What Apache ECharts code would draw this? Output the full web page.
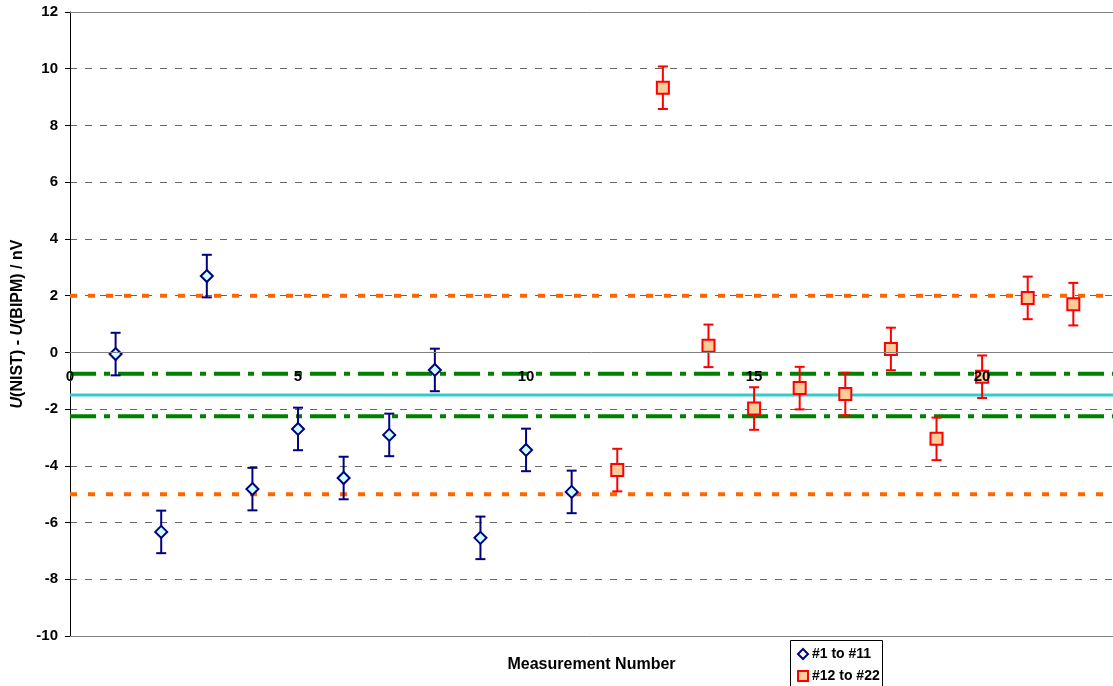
<!DOCTYPE html>
<html>
<head>
<meta charset="utf-8">
<script src="https://cdn.jsdelivr.net/npm/echarts@6/dist/echarts.min.js"></script>
<style>html,body{margin:0;padding:0;background:#fff;}#c{width:1113px;height:686px;}</style>
</head>
<body>
<div id="c"></div>
<script>
// Measurement numbers
const xs1 = [1,2,3,4,5,6,7,8,9,10,11];
const xs2 = [12,13,14,15,16,17,18,19,20,21,22];
// U(NIST) - U(BIPM) / nV
const vals1 = [-0.06,-6.33,2.69,-4.82,-2.70,-4.43,-2.91,-0.62,-6.54,-3.44,-4.92];
const vals2 = [-4.15,9.33,0.23,-1.98,-1.26,-1.47,0.12,-3.05,-0.86,1.92,1.70];
// uncertainties (error bar half-widths)
const err1 = [0.75,0.75,0.75,0.75,0.75,0.75,0.75,0.75,0.75,0.75,0.75];
const err2 = [0.75,0.75,0.75,0.75,0.75,0.75,0.75,0.75,0.75,0.75,0.75];
// reference levels
const orangeLevels = [2,-5];
const greenLevels = [-0.75,-2.25];
const cyanLevel = -1.5;
const X_MAX = 22.87; // visible end of the (clipped) plot area
const xSpan = [0, X_MAX];
const names = ['#1 to #11','#12 to #22'];

const FONT = "'Liberation Sans', Arial, sans-serif";
const GRID_TOP = 12, GRID_BOTTOM = 50, H = 686;
const Y_MIN = -10, Y_MAX = 12;
const plotH = H - GRID_TOP - GRID_BOTTOM;
const zeroOffset = -plotH * (0 - Y_MIN) / (Y_MAX - Y_MIN);

function errSeries(xs, vals, errs, color){
  return {
    type:'custom', silent:true, z:3,
    data: xs.map((x,i)=>[x, vals[i], errs[i]]),
    renderItem(params, api){
      const x=api.value(0), y=api.value(1), e=api.value(2);
      const t=api.coord([x,y+e]), b=api.coord([x,y-e]);
      const hw=5, st={stroke:color, lineWidth:2};
      return {type:'group', children:[
        {type:'line', shape:{x1:t[0],y1:t[1],x2:b[0],y2:b[1]}, style:st},
        {type:'line', shape:{x1:t[0]-hw,y1:t[1],x2:t[0]+hw,y2:t[1]}, style:st},
        {type:'line', shape:{x1:b[0]-hw,y1:b[1],x2:b[0]+hw,y2:b[1]}, style:st}
      ]};
    }
  };
}
function refLine(level, color, width, dash){
  return {type:'line', silent:true, z:1, symbol:'none',
    data: xSpan.map(x=>[x, level]),
    lineStyle:{color:color, width:width, type:dash}};
}

const series = [];
orangeLevels.forEach(l=>series.push(refLine(l,'#FF6600',4,[7,11])));
greenLevels.forEach(l=>series.push(refLine(l,'#008000',4,[26,8,6,8])));
const cyan = refLine(cyanLevel,'#33CCCC',3,'solid');
// solid plot-area frame lines at top and bottom
cyan.markLine = {silent:true, symbol:'none', label:{show:false},
  lineStyle:{color:'#808080', width:1, type:'solid'},
  data:[{yAxis:Y_MAX},{yAxis:Y_MIN}]};
series.push(cyan);
series.push(errSeries(xs1, vals1, err1, '#000080'));
series.push(errSeries(xs2, vals2, err2, '#FF0000'));
series.push({type:'scatter', name:names[0], z:4, symbol:'diamond', symbolSize:12,
  data: xs1.map((x,i)=>[x, vals1[i]]),
  itemStyle:{color:'#CCFFFF', borderColor:'#000080', borderWidth:2, opacity:1}});
series.push({type:'scatter', name:names[1], z:4, symbol:'rect', symbolSize:12,
  data: xs2.map((x,i)=>[x, vals2[i]]),
  itemStyle:{color:'#FFCC99', borderColor:'#FF0000', borderWidth:2, opacity:1}});

const chart = echarts.init(document.getElementById('c'), null, {renderer:'canvas'});
chart.setOption({
  animation:false,
  backgroundColor:'#fff',
  textStyle:{fontFamily:FONT},
  grid:{left:70, top:GRID_TOP, right:0, bottom:GRID_BOTTOM, show:false},
  graphic:[{type:'rect', z:100, silent:true,
    shape:{x:790.5, y:640.5, width:92, height:60},
    style:{fill:'none', stroke:'#000', lineWidth:1}}],
  legend:{
    orient:'vertical', left:797, top:647, data:[
      {name:names[0], icon:'diamond', itemStyle:{color:'#fff', borderColor:'#000080', borderWidth:2}},
      {name:names[1], icon:'rect', itemStyle:{color:'#FFCC99', borderColor:'#FF0000', borderWidth:2}}
    ],
    itemWidth:10, itemHeight:10, itemGap:8, padding:0,
    textStyle:{fontFamily:FONT, fontWeight:'bold', fontSize:14, color:'#000', padding:[0,0,0,-1]}
  },
  xAxis:{
    type:'value', min:0, max:X_MAX, interval:5, z:10,
    position:'bottom', offset:zeroOffset,
    name:'Measurement Number', nameLocation:'middle', nameGap:304,
    nameTextStyle:{fontFamily:FONT, fontWeight:'bold', fontSize:16, color:'#000'},
    axisLine:{onZero:false, lineStyle:{color:'#808080', width:1}},
    axisTick:{show:false},
    axisLabel:{showMaxLabel:false, margin:17, fontFamily:FONT, fontWeight:'bold', fontSize:15, color:'#000'},
    splitLine:{show:false}
  },
  yAxis:{
    type:'value', min:Y_MIN, max:Y_MAX, interval:2,
    name:'{i|U}(NIST) - {i|U}(BIPM) / nV', nameLocation:'middle', nameGap:44,
    nameTextStyle:{fontFamily:FONT, fontWeight:'bold', fontSize:16, color:'#000',
      rich:{i:{fontFamily:FONT, fontWeight:'bold', fontStyle:'italic', fontSize:16, color:'#000'}}},
    axisLine:{show:true, onZero:false, lineStyle:{color:'#000', width:1}},
    axisTick:{show:true, inside:false, length:5, lineStyle:{color:'#000'}},
    axisLabel:{margin:12, fontFamily:FONT, fontWeight:'bold', fontSize:15, color:'#000'},
    splitLine:{show:true, lineStyle:{color:'#666', width:1, type:[7,8]}}
  },
  series: series
});
</script>
</body>
</html>
